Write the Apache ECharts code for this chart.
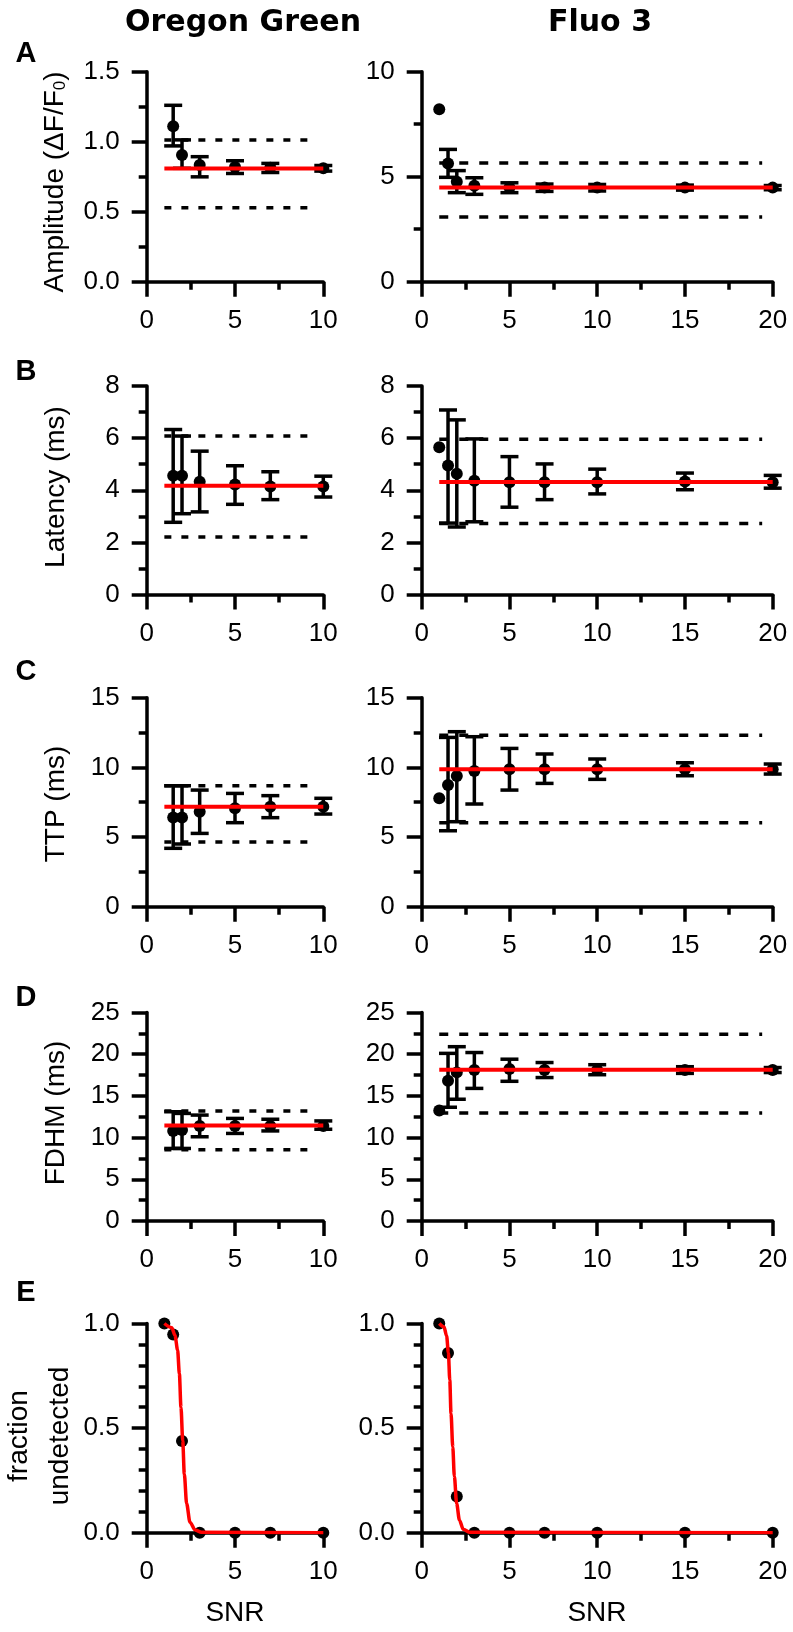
<!DOCTYPE html>
<html><head><meta charset="utf-8">
<script src="https://cdn.jsdelivr.net/npm/echarts@6/dist/echarts.min.js"></script>
<style>html,body{margin:0;padding:0;background:#fff}#c{width:793px;height:1632px}</style>
</head><body><div id="c"></div><script>
// ---------- DATA ----------
const snrOG = [1.5, 2, 3, 5, 7, 10];
const snrFluo = [1, 1.5, 2, 3, 5, 7, 10, 15, 20];
const snrOGDet = [1, 1.5, 2, 3, 5, 7, 10];

const xTicksOG = [0, 5, 10];
const xTicksFluo = [0, 5, 10, 15, 20];
const yTicksAmpOG = [0, 0.5, 1.0, 1.5];
const yTicksAmpFluo = [0, 5, 10];
const yTicksLat = [0, 2, 4, 6, 8];
const yTicksTTP = [0, 5, 10, 15];
const yTicksFDHM = [0, 5, 10, 15, 20, 25];
const yTicksFrac = [0, 0.5, 1.0];

// Amplitude
const ampOG_mean = [1.11, 0.905, 0.833, 0.82, 0.814, 0.81];
const ampOG_lo   = [0.97, 0.81, 0.749, 0.773, 0.78, 0.79];
const ampOG_hi   = [1.26, 1.013, 0.893, 0.864, 0.845, 0.83];
const ampOG_fit = 0.809;
const ampOG_band = [1.013, 0.528];
const ampFluo_mean = [8.21, 5.63, 4.76, 4.57, 4.49, 4.48, 4.48, 4.48, 4.48];
const ampFluo_lo   = [null, 4.97, 4.24, 4.16, 4.24, 4.30, 4.32, 4.36, 4.38];
const ampFluo_hi   = [null, 6.30, 5.29, 4.95, 4.71, 4.65, 4.63, 4.60, 4.58];
const ampFluo_fit = 4.48;
const ampFluo_band = [5.65, 3.08];

// Latency
const latOG_mean = [4.56, 4.56, 4.33, 4.22, 4.14, 4.14];
const latOG_lo   = [2.77, 3.10, 3.17, 3.46, 3.64, 3.74];
const latOG_hi   = [6.33, 6.08, 5.50, 4.94, 4.71, 4.54];
const latOG_fit = 4.17;
const latOG_band = [6.08, 2.21];
const latFluo_mean = [5.65, 4.95, 4.63, 4.36, 4.31, 4.31, 4.31, 4.34, 4.31];
const latFluo_lo   = [null, 2.74, 2.59, 2.79, 3.35, 3.64, 3.86, 4.02, 4.08];
const latFluo_hi   = [null, 7.08, 6.70, 5.97, 5.29, 5.01, 4.81, 4.66, 4.57];
const latFluo_fit = 4.32;
const latFluo_band = [5.96, 2.72];

// TTP
const ttpOG_mean = [6.41, 6.41, 6.82, 7.06, 7.18, 7.18];
const ttpOG_lo   = [4.19, 4.50, 5.26, 6.03, 6.39, 6.65];
const ttpOG_hi   = [8.68, 8.68, 8.37, 8.13, 7.97, 7.78];
const ttpOG_fit = 7.18;
const ttpOG_band = [8.68, 4.64];
const ttpFluo_mean = [7.78, 8.73, 9.38, 9.74, 9.86, 9.86, 9.86, 9.86, 9.86];
const ttpFluo_lo   = [null, 5.45, 6.10, 7.37, 8.37, 8.85, 9.14, 9.40, 9.52];
const ttpFluo_hi   = [null, 12.15, 12.56, 12.20, 11.36, 10.96, 10.60, 10.33, 10.24];
const ttpFluo_fit = 9.86;
const ttpFluo_band = [12.30, 6.03];

// FDHM
const fdhmOG_mean = [10.8, 10.9, 11.4, 11.4, 11.4, 11.4];
const fdhmOG_lo   = [8.7, 8.7, 10.1, 10.5, 10.8, 11.0];
const fdhmOG_hi   = [13.1, 12.9, 12.7, 12.3, 12.2, 12.0];
const fdhmOG_fit = 11.44;
const fdhmOG_band = [13.2, 8.55];
const fdhmFluo_mean = [13.24, 16.83, 17.82, 18.1, 18.22, 18.1, 18.1, 18.1, 18.1];
const fdhmFluo_lo   = [null, 13.64, 14.6, 15.9, 16.75, 17.2, 17.54, 17.7, 17.8];
const fdhmFluo_hi   = [null, 20.1, 20.9, 20.2, 19.4, 19.0, 18.74, 18.5, 18.4];
const fdhmFluo_fit = 18.14;
const fdhmFluo_band = [22.4, 12.96];

// Fraction undetected
const fracOG = [1.0, 0.947, 0.438, 0, 0, 0, 0];
const fracFluo = [1.0, 0.859, 0.173, 0, 0, 0, 0, 0, 0];
const curveOG_x = [1, 1.42, 1.6, 1.75, 1.85, 1.94, 2.04, 2.13, 2.26, 2.45, 2.74, 3.1, 10];
const curveOG_y = [1.0, 0.98, 0.944, 0.873, 0.76, 0.60, 0.44, 0.28, 0.14, 0.05, 0.013, 0.002, 0];
const curveFluo_x = [1, 1.27, 1.42, 1.52, 1.6, 1.67, 1.77, 1.86, 1.99, 2.15, 2.37, 2.72, 20];
const curveFluo_y = [1.0, 0.984, 0.94, 0.86, 0.73, 0.57, 0.41, 0.27, 0.14, 0.06, 0.016, 0.002, 0];

const fitRangeOG = [1, 10], fitRangeFluo = [1, 20];
const bandRangeOG = [1, 9.2], bandRangeFluo = [1, 19.4];

// ---------- LAYOUT ----------
const FONT = '"Liberation Sans", Arial, sans-serif';
const BFONT = '"DejaVu Sans", sans-serif';
const rowTops = [71.7, 386, 697.7, 1012.5, 1323.5];
const rowH = [210, 208.5, 209, 208.5, 209.2];
const colLeft = [146.7, 421.7];
const colW = [176.6, 351];

const grids = [], xAxes = [], yAxes = [], series = [];

function fmtTicks(ticks) {
  const dec = ticks.some(t => Math.round(t) !== t);
  return v => dec ? v.toFixed(1) : String(Math.round(v));
}
function axisCommon(ticks, minorSplit, idx, isX) {
  return {
    type: 'value', gridIndex: idx,
    min: ticks[0], max: ticks[ticks.length - 1], interval: ticks[1] - ticks[0],
    axisLine: { show: true, onZero: false, lineStyle: { color: '#000', width: 3.5 } },
    axisTick: { show: true, inside: false, length: 15, lineStyle: { color: '#000', width: 3.5 } },
    minorTick: { show: true, splitNumber: minorSplit, length: 8, lineStyle: { color: '#000', width: 3.5 } },
    splitLine: { show: false }, minorSplitLine: { show: false },
    axisLabel: { fontSize: 26, fontFamily: FONT, color: '#000', margin: isX ? 26 : 27, formatter: fmtTicks(ticks) }
  };
}
function errRender(params, api) {
  const x = api.value(0), lo = api.value(1), hi = api.value(2);
  const a = api.coord([x, lo]), b = api.coord([x, hi]);
  const w = 9, st = { stroke: '#000', lineWidth: 3.5 };
  return { type: 'group', children: [
    { type: 'line', shape: { x1: a[0], y1: a[1], x2: b[0], y2: b[1] }, style: st },
    { type: 'line', shape: { x1: a[0] - w, y1: a[1], x2: a[0] + w, y2: a[1] }, style: st },
    { type: 'line', shape: { x1: b[0] - w, y1: b[1], x2: b[0] + w, y2: b[1] }, style: st }
  ]};
}
let gi = 0;
function addGrid(row, col, xTicks, yTicks, yMinor) {
  const idx = gi++;
  grids.push({ left: colLeft[col], top: rowTops[row], width: colW[col], height: rowH[row] });
  xAxes.push(axisCommon(xTicks, 2, idx, true));
  yAxes.push(axisCommon(yTicks, yMinor, idx, false));
  return idx;
}
function addStatPanel(row, col, xTicks, yTicks, snr, mean, lo, hi, fit, band, fitRange, bandRange, dash) {
  const idx = addGrid(row, col, xTicks, yTicks, 2);
  series.push({ type: 'custom', xAxisIndex: idx, yAxisIndex: idx, renderItem: errRender, z: 2,
    encode: { x: 0, y: [1, 2] },
    data: snr.map((x, i) => lo[i] == null ? null : [x, lo[i], hi[i]]).filter(Boolean) });
  band.forEach(v => series.push({ type: 'line', xAxisIndex: idx, yAxisIndex: idx, symbol: 'none', z: 2,
    lineStyle: { color: '#000', width: 3.5, type: dash, cap: 'butt' },
    data: [[bandRange[0], v], [bandRange[1], v]] }));
  series.push({ type: 'scatter', xAxisIndex: idx, yAxisIndex: idx, symbol: 'circle', symbolSize: 12, z: 3,
    itemStyle: { color: '#000', opacity: 1 }, data: snr.map((x, i) => [x, mean[i]]) });
  series.push({ type: 'line', xAxisIndex: idx, yAxisIndex: idx, symbol: 'none', z: 4,
    lineStyle: { color: '#ff0000', width: 4 }, data: [[fitRange[0], fit], [fitRange[1], fit]] });
}
function addDetPanel(col, xTicks, snr, frac, cx, cy) {
  const idx = addGrid(4, col, xTicks, yTicksFrac, 5);
  series.push({ type: 'scatter', xAxisIndex: idx, yAxisIndex: idx, symbol: 'circle', symbolSize: 12, z: 3,
    itemStyle: { color: '#000', opacity: 1 }, data: snr.map((x, i) => [x, frac[i]]) });
  series.push({ type: 'line', xAxisIndex: idx, yAxisIndex: idx, symbol: 'none', z: 4, smooth: 0.3, smoothMonotone: 'x',
    lineStyle: { color: '#ff0000', width: 3.5 }, data: cx.map((x, i) => [x, cy[i]]) });
}

const dashOG = [7, 10], dashFluo = [9, 11];
addStatPanel(0, 0, xTicksOG, yTicksAmpOG, snrOG, ampOG_mean, ampOG_lo, ampOG_hi, ampOG_fit, ampOG_band, fitRangeOG, bandRangeOG, dashOG);
addStatPanel(0, 1, xTicksFluo, yTicksAmpFluo, snrFluo, ampFluo_mean, ampFluo_lo, ampFluo_hi, ampFluo_fit, ampFluo_band, fitRangeFluo, bandRangeFluo, dashFluo);
addStatPanel(1, 0, xTicksOG, yTicksLat, snrOG, latOG_mean, latOG_lo, latOG_hi, latOG_fit, latOG_band, fitRangeOG, bandRangeOG, dashOG);
addStatPanel(1, 1, xTicksFluo, yTicksLat, snrFluo, latFluo_mean, latFluo_lo, latFluo_hi, latFluo_fit, latFluo_band, fitRangeFluo, bandRangeFluo, dashFluo);
addStatPanel(2, 0, xTicksOG, yTicksTTP, snrOG, ttpOG_mean, ttpOG_lo, ttpOG_hi, ttpOG_fit, ttpOG_band, fitRangeOG, bandRangeOG, dashOG);
addStatPanel(2, 1, xTicksFluo, yTicksTTP, snrFluo, ttpFluo_mean, ttpFluo_lo, ttpFluo_hi, ttpFluo_fit, ttpFluo_band, fitRangeFluo, bandRangeFluo, dashFluo);
addStatPanel(3, 0, xTicksOG, yTicksFDHM, snrOG, fdhmOG_mean, fdhmOG_lo, fdhmOG_hi, fdhmOG_fit, fdhmOG_band, fitRangeOG, bandRangeOG, dashOG);
addStatPanel(3, 1, xTicksFluo, yTicksFDHM, snrFluo, fdhmFluo_mean, fdhmFluo_lo, fdhmFluo_hi, fdhmFluo_fit, fdhmFluo_band, fitRangeFluo, bandRangeFluo, dashFluo);
addDetPanel(0, xTicksOG, snrOGDet, fracOG, curveOG_x, curveOG_y);
addDetPanel(1, xTicksFluo, snrFluo, fracFluo, curveFluo_x, curveFluo_y);

// ---------- TEXT ----------
function txt(x, y, text, size, bold, rot, fam) {
  return { type: 'text', x: x, y: y, rotation: rot || 0, silent: true,
    style: { text: text, fontFamily: fam || FONT, fontSize: size, fontWeight: bold ? 'bold' : 'normal',
      fill: '#000', align: 'center', verticalAlign: 'middle' } };
}
const R = Math.PI / 2;
const graphic = [
  txt(243, 23, 'Oregon Green', 30, true, 0, BFONT),
  txt(600, 23, 'Fluo 3', 30, true, 0, BFONT),
  txt(26, 54, 'A', 29, true), txt(26, 372, 'B', 29, true), txt(26, 672, 'C', 29, true),
  txt(26, 998, 'D', 29, true), txt(26, 1293, 'E', 29, true),
  { type: 'text', x: 55, y: 182, rotation: R, silent: true,
    style: { text: '{a|Amplitude (ΔF/F}{s|0}{a|)}', align: 'center', verticalAlign: 'middle', fill: '#000',
      rich: { a: { fontFamily: FONT, fontSize: 28, lineHeight: 28, fill: '#000' },
              s: { fontFamily: FONT, fontSize: 17, lineHeight: 12, verticalAlign: 'bottom', fill: '#000' } } } },
  txt(56, 487, 'Latency (ms)', 28, false, R),
  txt(56, 804, 'TTP (ms)', 28, false, R),
  txt(56, 1113, 'FDHM (ms)', 28, false, R),
  txt(19, 1436, 'fraction', 28, false, R),
  txt(60, 1436, 'undetected', 28, false, R),
  txt(235, 1613, 'SNR', 28, false),
  txt(597, 1613, 'SNR', 28, false)
];

const chart = echarts.init(document.getElementById('c'), null, { renderer: 'canvas' });
chart.setOption({ animation: false, backgroundColor: '#fff', grid: grids, xAxis: xAxes, yAxis: yAxes, series: series, graphic: graphic });
</script></body></html>
